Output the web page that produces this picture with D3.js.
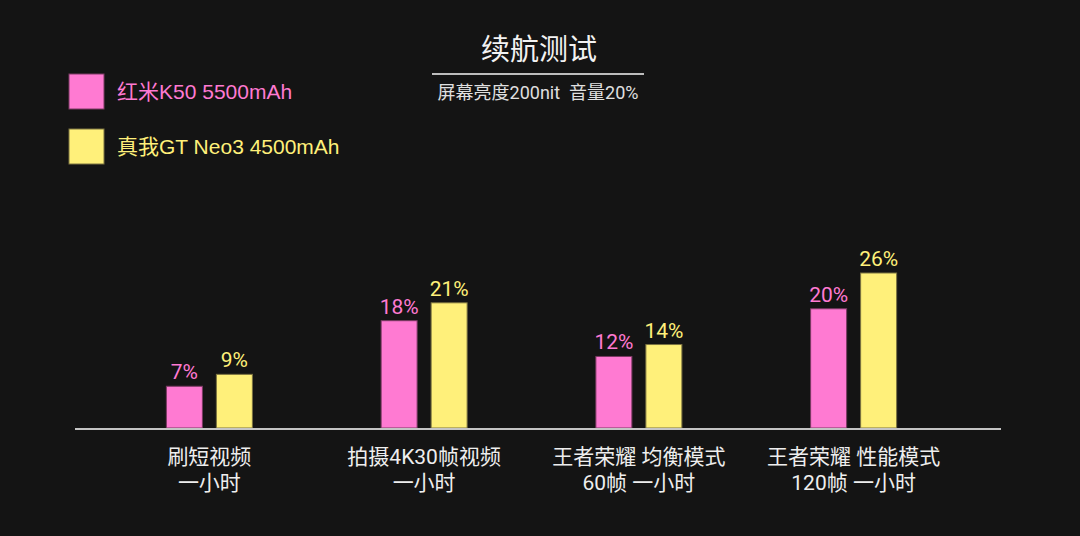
<!DOCTYPE html>
<meta charset="utf-8">
<style>
body { margin: 0; background: #141414; }
svg { display: block; font-family: "Noto Sans CJK SC", "Noto Sans", sans-serif; }
</style>
<body>
<svg width="1080" height="536"></svg>
<script src="https://cdn.jsdelivr.net/npm/d3@7"></script>
<script>
var categories = [["刷短视频", "一小时"], ["拍摄4K30帧视频", "一小时"], ["王者荣耀 均衡模式", "60帧 一小时"], ["王者荣耀 性能模式", "120帧 一小时"]];
var seriesNames = ["红米K50 5500mAh", "真我GT Neo3 4500mAh"];
var redmiValues = [7, 18, 12, 20];
var realmeValues = [9, 21, 14, 26];
var seriesColors = ["#ff7ad2", "#fff07a"];
var strokeColors = ["#7a3a62", "#7a7240"];

var svg = d3.select("svg");
var baseY = 428;

var x = d3.scaleBand()
    .domain(d3.range(categories.length))
    .range([102, 961]);

var inner = d3.scaleBand()
    .domain(d3.range(seriesNames.length))
    .range([0, 86])
    .paddingInner(0.28);

var y = d3.scaleLinear().domain([0, 26]).range([baseY, 273]);

var values = [redmiValues, realmeValues];

// title
svg.append("text").attr("x", 539).attr("y", 60).attr("text-anchor", "middle")
    .attr("fill", "#f2f2f2").attr("font-size", 29).text("续航测试");
svg.append("line").attr("x1", 432).attr("x2", 644).attr("y1", 74).attr("y2", 74)
    .attr("stroke", "#bdbdbd").attr("stroke-width", 2);
svg.append("text").attr("x", 538).attr("y", 99).attr("text-anchor", "middle")
    .attr("fill", "#e0e0e0").attr("font-size", 18)
    .style("font-family", "Roboto, 'Noto Sans CJK SC', sans-serif")
    .style("white-space", "pre")
    .text("屏幕亮度200nit  音量20%");

// legend
var legend = svg.append("g").selectAll("g").data(seriesNames).enter().append("g")
    .attr("transform", function(d, i) { return "translate(69," + (74 + i * 55) + ")"; });
legend.append("rect").attr("width", 35).attr("height", 35)
    .attr("fill", function(d, i) { return seriesColors[i]; })
    .attr("stroke", function(d, i) { return strokeColors[i]; });
legend.append("text").attr("x", 48).attr("y", 25)
    .attr("font-size", 21)
    .style("font-family", "'Liberation Sans', 'Noto Sans CJK SC', sans-serif")
    .attr("fill", function(d, i) { return seriesColors[i]; })
    .text(function(d) { return d; });

// bars
var groups = svg.append("g").selectAll("g").data(categories).enter().append("g")
    .attr("transform", function(d, i) { return "translate(" + (x(i) + x.bandwidth() / 2 - 43) + ",0)"; });

values.forEach(function(vals, s) {
  groups.append("rect")
      .attr("x", inner(s))
      .attr("y", function(d, i) { return y(vals[i]); })
      .attr("width", inner.bandwidth())
      .attr("height", function(d, i) { return baseY - y(vals[i]); })
      .attr("fill", seriesColors[s])
      .attr("stroke", strokeColors[s])
      .attr("stroke-width", 1);
  groups.append("text")
      .attr("x", inner(s) + inner.bandwidth() / 2)
      .attr("y", function(d, i) { return y(vals[i]) - 7; })
      .attr("text-anchor", "middle")
      .attr("font-size", 21)
      .style("font-family", "Roboto, sans-serif")
      .attr("fill", seriesColors[s])
      .text(function(d, i) { return vals[i] + "%"; });
});

// axis line
svg.append("line").attr("x1", 75).attr("x2", 1001).attr("y1", baseY + 1).attr("y2", baseY + 1)
    .attr("stroke", "#c4c4c4").attr("stroke-width", 2);

// category labels, one text per line
var labelGroups = svg.append("g").selectAll("g").data(categories).enter().append("g");
labelGroups.each(function(d, i) {
  var g = d3.select(this);
  d.forEach(function(line, j) {
    g.append("text")
        .attr("x", x(i) + x.bandwidth() / 2)
        .attr("y", 464 + j * 26)
        .attr("text-anchor", "middle")
        .attr("font-size", 21)
        .style("font-family", "Roboto, 'Noto Sans CJK SC', sans-serif")
        .attr("fill", "#eeeeee")
        .text(line);
  });
});
</script>
</body>
